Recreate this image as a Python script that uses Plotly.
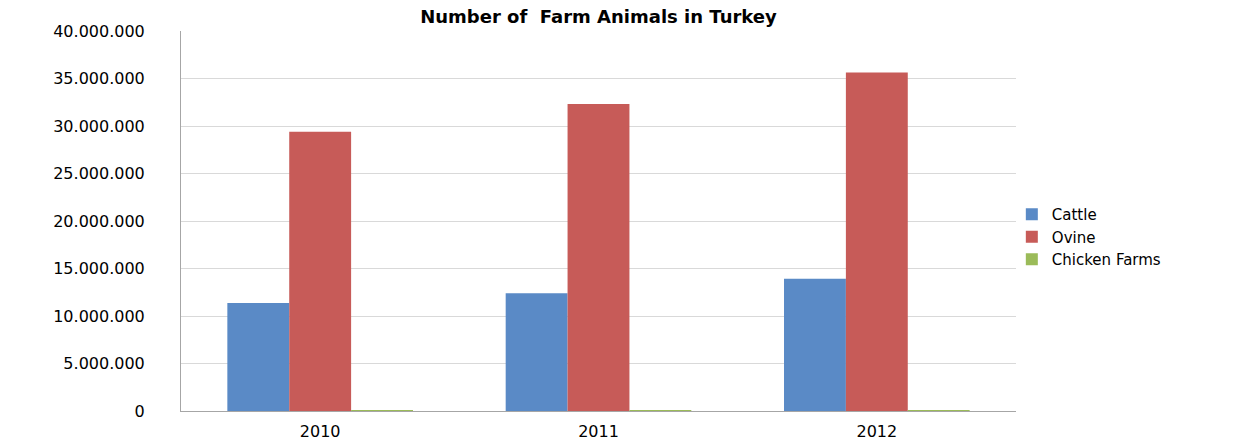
import plotly.graph_objects as go

years = ["2010", "2011", "2012"]
cattle = [11369800, 12386337, 13914912]
ovine = [29384000, 32310000, 35630000]
chicken_farms = [70000, 70000, 70000]

series_names = ["Cattle", "Ovine", "Chicken Farms"]
colors = ["#5a8ac6", "#c75b58", "#9bbb59"]
tick_vals = [0, 5000000, 10000000, 15000000, 20000000, 25000000, 30000000, 35000000, 40000000]
tick_text = ["0", "5.000.000", "10.000.000", "15.000.000", "20.000.000",
             "25.000.000", "30.000.000", "35.000.000", "40.000.000"]

fig = go.Figure()
for name, vals, col in zip(series_names, [cattle, ovine, chicken_farms], colors):
    fig.add_trace(go.Bar(name=name, x=years, y=vals, marker=dict(color=col, line=dict(width=0))))

fig.update_layout(
    width=1239, height=441,
    barmode="group", bargap=0.333, bargroupgap=0,
    plot_bgcolor="white", paper_bgcolor="white",
    margin=dict(l=181, r=223, t=31, b=30, autoexpand=False),
    font=dict(family="DejaVu Sans", color="#000000"),
    title=dict(text="<b>Number of  Farm Animals in Turkey</b>", x=0.5, xanchor="center",
               xref="paper", y=1 - 17 / 441, yref="container", yanchor="middle",
               font=dict(size=18, family="DejaVu Sans", color="#000000")),
    legend=dict(x=0.995, xanchor="left", y=0.458, yanchor="middle",
                font=dict(size=15, family="DejaVu Sans"), itemwidth=30,
                tracegroupgap=0, bgcolor="rgba(0,0,0,0)"),
    showlegend=True,
)
fig.update_yaxes(range=[0, 40000000], tickvals=tick_vals, ticktext=tick_text,
                 showgrid=True, gridcolor="#d9d9d9", gridwidth=1,
                 showline=True, linecolor="#a6a6a6", linewidth=1,
                 ticks="", ticklabelstandoff=32, zeroline=False, automargin=False,
                 tickfont=dict(size=16, family="DejaVu Sans"))
fig.update_xaxes(showline=True, linecolor="#a6a6a6", linewidth=1, ticks="", automargin=False,
                 tickfont=dict(size=16, family="DejaVu Sans"), ticklabelstandoff=6)

fig.write_html("out.html")
